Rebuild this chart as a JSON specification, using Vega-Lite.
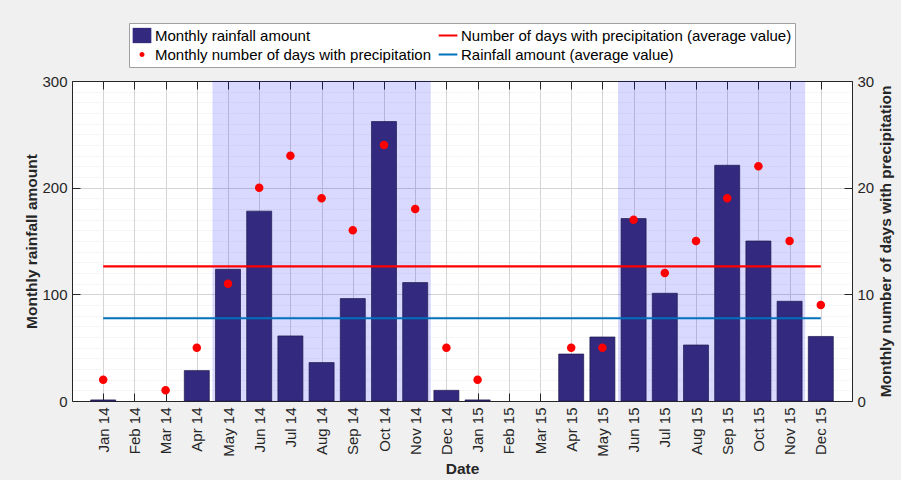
{
  "$schema": "https://vega.github.io/schema/vega-lite/v6.json",
  "width": 780,
  "height": 320,
  "autosize": {"type": "none"},
  "padding": {"left": 72, "top": 81, "right": 49, "bottom": 79},
  "background": "#f0f0f0",
  "datasets": {
    "monthly": [
      {"month": 1, "label": "Jan 14", "rain": 1, "days": 2},
      {"month": 2, "label": "Feb 14", "rain": 0, "days": null},
      {"month": 3, "label": "Mar 14", "rain": 0, "days": 1},
      {"month": 4, "label": "Apr 14", "rain": 28.5, "days": 5},
      {"month": 5, "label": "May 14", "rain": 123.5, "days": 11},
      {"month": 6, "label": "Jun 14", "rain": 178, "days": 20},
      {"month": 7, "label": "Jul 14", "rain": 61, "days": 23},
      {"month": 8, "label": "Aug 14", "rain": 36, "days": 19},
      {"month": 9, "label": "Sep 14", "rain": 96, "days": 16},
      {"month": 10, "label": "Oct 14", "rain": 262, "days": 24},
      {"month": 11, "label": "Nov 14", "rain": 111, "days": 18},
      {"month": 12, "label": "Dec 14", "rain": 10, "days": 5},
      {"month": 13, "label": "Jan 15", "rain": 1, "days": 2},
      {"month": 14, "label": "Feb 15", "rain": 0, "days": null},
      {"month": 15, "label": "Mar 15", "rain": 0, "days": null},
      {"month": 16, "label": "Apr 15", "rain": 44, "days": 5},
      {"month": 17, "label": "May 15", "rain": 60, "days": 5},
      {"month": 18, "label": "Jun 15", "rain": 171, "days": 17},
      {"month": 19, "label": "Jul 15", "rain": 101, "days": 12},
      {"month": 20, "label": "Aug 15", "rain": 52.5, "days": 15},
      {"month": 21, "label": "Sep 15", "rain": 221, "days": 19},
      {"month": 22, "label": "Oct 15", "rain": 150, "days": 22},
      {"month": 23, "label": "Nov 15", "rain": 93.5, "days": 15},
      {"month": 24, "label": "Dec 15", "rain": 60.5, "days": 9}
    ],
    "seasons": [
      {"start": 4.5, "end": 11.5},
      {"start": 17.5, "end": 23.5}
    ]
  },
  "layer": [
    {
      "data": {"name": "seasons"},
      "mark": {"type": "rect", "fill": "#0000ff", "opacity": 0.15},
      "encoding": {
        "x": {
          "field": "start", "type": "quantitative",
          "scale": {"domain": [0, 25], "nice": false, "zero": false, "padding": 0},
          "axis": {
            "orient": "top", "values": [1,2,3,4,5,6,7,8,9,10,11,12,13,14,15,16,17,18,19,20,21,22,23,24],
            "labels": false, "grid": false, "title": null, "ticks": true, "tickSize": -8
          }
        },
        "x2": {"field": "end"}
      }
    },
    {
      "data": {"name": "monthly"},
      "transform": [{"filter": "datum.rain > 0"}],
      "mark": {"type": "bar", "size": 25, "stroke": "#1e1a4d", "strokeWidth": 1, "strokeOpacity": 0.7},
      "encoding": {
        "x": {
          "field": "month", "type": "quantitative",
          "scale": {"domain": [0, 25], "nice": false, "zero": false, "padding": 0},
          "axis": {
            "orient": "bottom",
            "values": [1,2,3,4,5,6,7,8,9,10,11,12,13,14,15,16,17,18,19,20,21,22,23,24],
            "labelExpr": "['Jan 14','Feb 14','Mar 14','Apr 14','May 14','Jun 14','Jul 14','Aug 14','Sep 14','Oct 14','Nov 14','Dec 14','Jan 15','Feb 15','Mar 15','Apr 15','May 15','Jun 15','Jul 15','Aug 15','Sep 15','Oct 15','Nov 15','Dec 15'][datum.value - 1]",
            "labelAngle": 270, "labelPadding": 14, "labelOverlap": false, "tickSize": -8,
            "grid": true, "gridColor": "#d4d4d4",
            "title": "Date", "titlePadding": 5
          }
        },
        "y": {
          "field": "rain", "type": "quantitative",
          "scale": {"domain": [0, 300], "nice": false},
          "axis": {
            "orient": "left",
            "values": [0,10,20,30,40,50,60,70,80,90,100,110,120,130,140,150,160,170,180,190,200,210,220,230,240,250,260,270,280,290,300],
            "labelExpr": "datum.value % 100 === 0 ? datum.label : ''",
            "labelOverlap": false,
            "grid": true,
            "gridColor": {"condition": {"test": "datum.value % 100 === 0", "value": "#d4d4d4"}, "value": "#e4e4e4"},
            "gridDash": {"condition": {"test": "datum.value % 100 === 0", "value": []}, "value": [1, 2]},
            "tickOpacity": {"condition": {"test": "datum.value % 100 === 0", "value": 1}, "value": 0},
            "tickSize": -8, "labelPadding": 13,
            "title": "Monthly rainfall amount", "titlePadding": 2
          }
        },
        "fill": {
          "datum": "Monthly rainfall amount",
          "type": "nominal",
          "scale": {
            "domain": ["Monthly rainfall amount", "Monthly number of days with precipitation", "Number of days with precipitation (average value)", "Rainfall amount (average value)"],
            "range": ["#33297f", "#ff0000", "transparent", "transparent"]
          },
          "legend": {
            "title": null, "orient": "none", "legendX": 57, "legendY": -58,
            "columns": 2, "columnPadding": 7, "rowPadding": 0, "clipHeight": 19,
            "symbolSize": 289, "symbolStrokeWidth": 2.2, "labelOffset": 3, "labelFontSize": 15, "labelColor": "#000000", "labelLimit": 400,
            "padding": 3, "fillColor": "#ffffff", "strokeColor": "#a0a0a0"
          }
        }
      }
    },
    {
      "data": {"name": "monthly"},
      "transform": [
        {"aggregate": [
          {"op": "mean", "field": "rain", "as": "rainAvg"},
          {"op": "min", "field": "month", "as": "rainStart"},
          {"op": "max", "field": "month", "as": "rainEnd"}
        ]}
      ],
      "mark": {"type": "rule", "strokeWidth": 2.2},
      "encoding": {
        "x": {"field": "rainStart", "type": "quantitative", "axis": null},
        "x2": {"field": "rainEnd"},
        "y": {"field": "rainAvg", "type": "quantitative", "scale": {"domain": [0, 300], "nice": false}, "axis": null},
        "stroke": {
          "datum": "Rainfall amount (average value)", "type": "nominal",
          "scale": {
            "domain": ["Monthly rainfall amount", "Monthly number of days with precipitation", "Number of days with precipitation (average value)", "Rainfall amount (average value)"],
            "range": ["transparent", "transparent", "#ff0000", "#0072bd"]
          }
        }
      }
    },
    {
      "data": {"name": "monthly"},
      "transform": [
        {"aggregate": [
          {"op": "mean", "field": "days", "as": "daysAvg"},
          {"op": "min", "field": "month", "as": "daysStart"},
          {"op": "max", "field": "month", "as": "daysEnd"}
        ]}
      ],
      "mark": {"type": "rule", "strokeWidth": 2.2},
      "encoding": {
        "x": {"field": "daysStart", "type": "quantitative", "axis": null},
        "x2": {"field": "daysEnd"},
        "y": {
          "field": "daysAvg", "type": "quantitative",
          "scale": {"domain": [0, 30], "nice": false},
          "axis": {
            "orient": "right", "values": [0, 10, 20, 30], "grid": false,
            "tickSize": -8, "labelPadding": 13,
            "title": "Monthly number of days with precipitation",
            "titleAngle": 270, "titleBaseline": "top", "titlePadding": 5
          }
        },
        "stroke": {"datum": "Number of days with precipitation (average value)", "type": "nominal"}
      }
    },
    {
      "data": {"name": "monthly"},
      "mark": {"type": "point", "filled": true, "size": 859, "opacity": 1},
      "encoding": {
        "x": {"field": "month", "type": "quantitative", "axis": null},
        "y": {"field": "days", "type": "quantitative", "scale": {"domain": [0, 30], "nice": false}, "axis": null},
        "fill": {"datum": "Monthly number of days with precipitation", "type": "nominal"},
        "shape": {
          "datum": "Monthly number of days with precipitation", "type": "nominal",
          "scale": {
            "domain": ["Monthly rainfall amount", "Monthly number of days with precipitation", "Number of days with precipitation (average value)", "Rainfall amount (average value)"],
            "range": ["M-1.1,-0.9H1.1V0.9H-1.1Z", "M-0.29,0A0.29,0.29,0,1,1,0.29,0A0.29,0.29,0,1,1,-0.29,0Z", "M-1.1,0H1.1", "M-1.1,0H1.1"]
          }
        }
      }
    }
  ],
  "resolve": {
    "scale": {"y": "independent"},
    "axis": {"x": "independent", "y": "independent"}
  },
  "config": {
    "font": "Liberation Sans",
    "view": {"fill": "#ffffff", "stroke": null},
    "scale": {"continuousPadding": 0},
    "axis": {
      "labelFontSize": 15, "labelColor": "#262626", "labelFont": "Liberation Sans",
      "titleFontSize": 15.5, "titleFontWeight": "bold", "titleColor": "#262626", "titleFont": "Liberation Sans",
      "domainColor": "#262626", "domainWidth": 1, "tickColor": "#262626", "tickWidth": 1
    },
    "legend": {"labelFont": "Liberation Sans"}
  }
}
